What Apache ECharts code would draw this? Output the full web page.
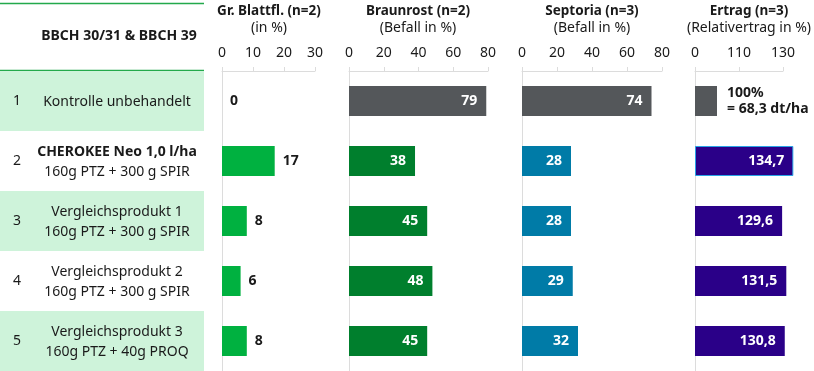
<!DOCTYPE html>
<html>
<head>
<meta charset="utf-8">
<script src="https://cdn.jsdelivr.net/npm/echarts@6/dist/echarts.min.js"></script>
<style>
  html, body { margin: 0; padding: 0; background: #fff; }
  #chart { width: 814px; height: 371px; }
</style>
</head>
<body>
<div id="chart"></div>
<script>
// rows of the trial table
const rowNums = ['1', '2', '3', '4', '5'];
const productNames = ['Kontrolle unbehandelt', 'CHEROKEE Neo 1,0 l/ha', 'Vergleichsprodukt 1', 'Vergleichsprodukt 2', 'Vergleichsprodukt 3'];
const dosages = ['', '160g PTZ + 300 g SPIR', '160g PTZ + 300 g SPIR', '160g PTZ + 300 g SPIR', '160g PTZ + 40g PROQ'];
const boldRows = [false, true, false, false, false];

// values per panel
const blattfl = [0, 17, 8, 6, 8];
const braunrost = [79, 38, 45, 48, 45];
const septoria = [74, 28, 28, 29, 32];
const ertrag = [100, 134.7, 129.6, 131.5, 130.8];
const ertragBase = 90; // broken axis: first tick "0", then 110, 130
const controlYield = '= 68,3 dt/ha';

const FONT = '"Noto Sans", "Open Sans", sans-serif';
const TXT = '#1a1a1a';
const GRAY = '#54575a';
const AXIS = '#dcdcdc';

const chart = echarts.init(document.getElementById('chart'));

function valueAxis(gridIndex, max, interval, fmt) {
  return {
    type: 'value', gridIndex, position: 'top', min: 0, max, interval,
    axisLine: { show: true, lineStyle: { color: AXIS, width: 1 } },
    axisTick: { show: true, inside: false, length: 4, lineStyle: { color: AXIS } },
    axisLabel: { margin: 11, color: TXT, fontSize: 14, fontFamily: FONT, formatter: fmt },
    splitLine: { show: false }
  };
}
function catAxis(gridIndex) {
  return {
    type: 'category', gridIndex, inverse: true, data: rowNums,
    axisLine: { show: true, lineStyle: { color: AXIS } },
    axisTick: { show: false }, axisLabel: { show: false }, splitLine: { show: false }
  };
}
const outLabel = { show: true, position: 'right', distance: 8, color: TXT, fontWeight: 'bold', fontSize: 14, fontFamily: FONT };
const inLabel = { show: true, position: 'insideRight', distance: 9, color: '#fff', fontWeight: 'bold', fontSize: 14, fontFamily: FONT };

function barSeries(idx, values, color, labelFor, extra) {
  return Object.assign({
    type: 'bar', xAxisIndex: idx, yAxisIndex: idx, barWidth: 30,
    data: values.map((v, i) => ({
      value: v,
      itemStyle: { color: i === 0 ? GRAY : color },
      label: labelFor(i)
    }))
  }, extra || {});
}

function titleAt(x, main, sub) {
  return {
    left: x, top: 3, textAlign: 'center', text: main, subtext: sub, itemGap: 1, padding: 0,
    textStyle: { fontFamily: FONT, fontSize: 13.5, fontWeight: 'bold', color: TXT, lineHeight: 16 },
    subtextStyle: { fontFamily: FONT, fontSize: 14, color: TXT, lineHeight: 17 }
  };
}

const ertragData = ertrag.map(v => v - ertragBase);

const option = {
  animation: false,
  textStyle: { fontFamily: FONT },
  title: [
    titleAt(269, 'Gr. Blattfl. (n=2)', '(in %)'),
    titleAt(418, 'Braunrost (n=2)', '(Befall in %)'),
    titleAt(592, 'Septoria (n=3)', '(Befall in %)'),
    titleAt(749, 'Ertrag (n=3)', '(Relativertrag in %)'),
    { left: 119, top: 29, textAlign: 'center', text: 'BBCH 30/31 & BBCH 39', padding: 0,
      textStyle: { fontFamily: FONT, fontSize: 14, fontWeight: 'bold', color: TXT } }
  ],
  graphic: [
    { type: 'line', shape: { x1: 0, y1: 3.5, x2: 204, y2: 3.5 }, style: { stroke: '#23a94b', lineWidth: 1.5 } },
    { type: 'line', shape: { x1: 0, y1: 70.5, x2: 204, y2: 70.5 }, style: { stroke: '#23a94b', lineWidth: 1.5 } }
  ],
  grid: [
    { left: 222, width: 93, top: 71, height: 300 },
    { left: 349, width: 139, top: 71, height: 300 },
    { left: 522, width: 140, top: 71, height: 300 },
    { left: 695, width: 88, top: 71, height: 300 },
    { left: 0, width: 204, top: 71, height: 300 }
  ],
  xAxis: [
    valueAxis(0, 30, 10),
    valueAxis(1, 80, 20),
    valueAxis(2, 80, 20),
    valueAxis(3, 40, 20, v => v === 0 ? '0' : String(v + ertragBase)),
    { type: 'value', gridIndex: 4, show: false, min: 0, max: 1 }
  ],
  yAxis: [
    catAxis(0), catAxis(1), catAxis(2), catAxis(3),
    {
      type: 'category', gridIndex: 4, inverse: true, data: rowNums, position: 'left',
      axisLine: { show: false }, axisTick: { show: false },
      axisLabel: { inside: true, margin: 13, color: TXT, fontSize: 14, fontFamily: FONT, padding: [2, 0, 0, 0] },
      splitLine: { show: false },
      splitArea: { show: true, areaStyle: { color: ['#cef3da', '#ffffff'] } }
    },
    {
      type: 'category', gridIndex: 4, inverse: true, data: rowNums, position: 'left',
      axisLine: { show: false }, axisTick: { show: false },
      axisLabel: {
        inside: true, margin: 30, color: TXT, fontFamily: FONT, padding: [3, 0, 0, 0],
        formatter: (v, i) => {
          const first = '{' + (boldRows[i] ? 'b' : 't') + '|' + productNames[i] + '}';
          return dosages[i] ? first + '\n{t|' + dosages[i] + '}' : first;
        },
        rich: {
          b: { width: 174, align: 'center', fontWeight: 'bold', fontSize: 14, lineHeight: 20, color: TXT, fontFamily: FONT },
          t: { width: 174, align: 'center', fontSize: 14, lineHeight: 20, color: TXT, fontFamily: FONT }
        }
      },
      splitLine: { show: false }
    }
  ],
  series: [
    barSeries(0, blattfl, '#00b140', () => outLabel),
    barSeries(1, braunrost, '#007f2d', () => inLabel),
    barSeries(2, septoria, '#007ba7', () => inLabel),
    {
      type: 'bar', xAxisIndex: 3, yAxisIndex: 3, barWidth: 30, clip: false,
      data: ertragData.map((v, i) => ({
        value: v,
        itemStyle: i === 0 ? { color: GRAY }
          : (i === 1 ? { color: '#2a0088', borderColor: '#29a3e6', borderWidth: 1 } : { color: '#2a0088' }),
        label: i === 0
          ? Object.assign({}, outLabel, { distance: 10, lineHeight: 16, align: 'left',
              formatter: () => ertrag[0] + '%\n' + controlYield })
          : Object.assign({}, inLabel, { formatter: () => ertrag[i].toFixed(1).replace('.', ',') })
      }))
    }
  ]
};

chart.setOption(option);
</script>
</body>
</html>
